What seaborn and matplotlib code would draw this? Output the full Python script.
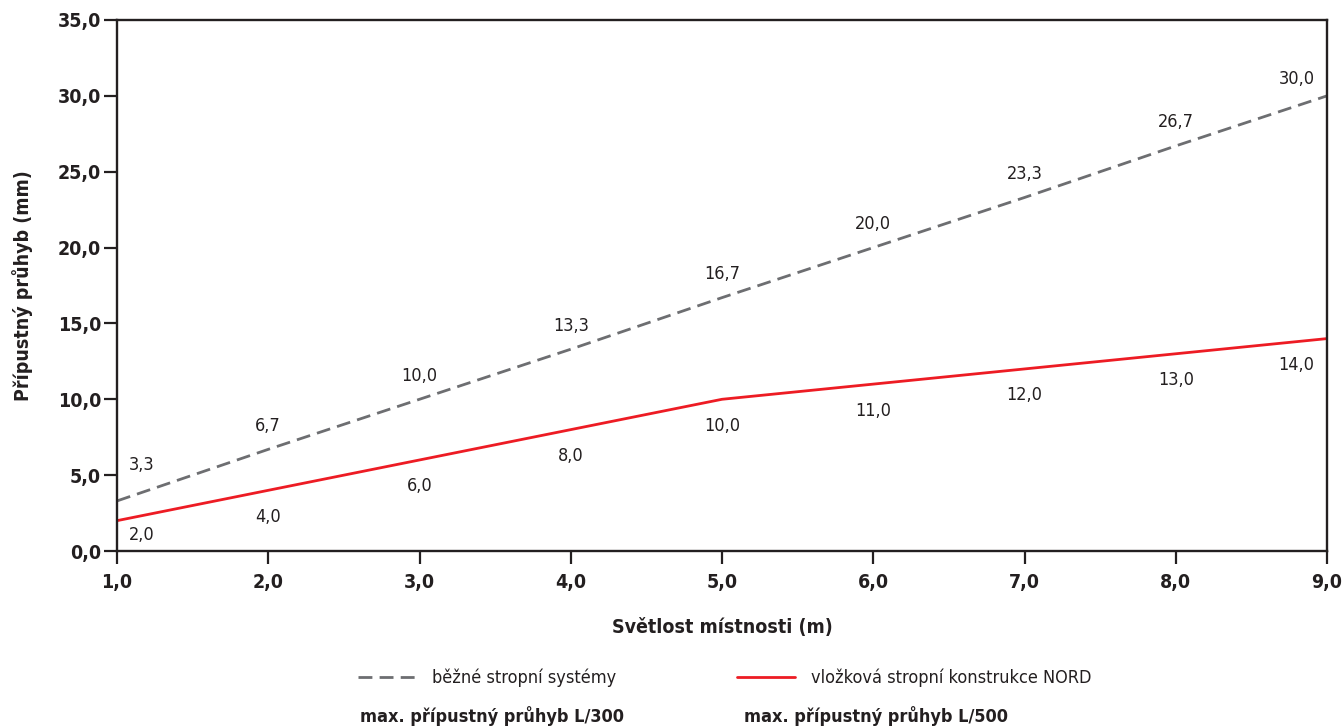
import matplotlib
matplotlib.use("Agg")
import matplotlib.pyplot as plt
import matplotlib.ticker as ticker
from matplotlib.lines import Line2D
import pandas as pd
import seaborn as sns

spans = [1, 2, 3, 4, 5, 6, 7, 8, 9]
common = [3.3, 6.7, 10.0, 13.3, 16.7, 20.0, 23.3, 26.7, 30.0]
nord = [2.0, 4.0, 6.0, 8.0, 10.0, 11.0, 12.0, 13.0, 14.0]
name_common = "běžné stropní systémy"
name_nord = "vložková stropní konstrukce NORD"
note_common = "max. přípustný průhyb L/300"
note_nord = "max. přípustný průhyb L/500"
xlabel = "Světlost místnosti (m)"
ylabel = "Přípustný průhyb (mm)"

GRAY = "#6d6e71"
RED = "#ed1c24"
INK = "#231f20"
DASH = (0, (5, 2.6))

sns.set_theme(style="white")
plt.rcParams["font.family"] = ["Liberation Sans Narrow", "DejaVu Sans"]
plt.rcParams["font.stretch"] = "condensed"

df = pd.DataFrame({"span": spans, "common": common, "nord": nord})

fig = plt.figure(figsize=(13.43, 7.28), dpi=100)
ax = fig.add_axes([117 / 1343, 1 - 551 / 728, (1327 - 117) / 1343, (551 - 20) / 728])

sns.lineplot(data=df, x="span", y="common", ax=ax, color=GRAY, lw=2.0,
             dashes=False, linestyle=DASH)
sns.lineplot(data=df, x="span", y="nord", ax=ax, color=RED, lw=2.0)

def fmt(v):
    return f"{v:.1f}".replace(".", ",")

last = len(spans) - 1
for i, (x, y) in enumerate(zip(spans, common)):
    dx = 18 if i == 0 else (-22 if i == last else 0)
    dy = 26 if i == 0 else (12 if i == last else 17)
    ax.annotate(fmt(y), (x, y), xytext=(dx, dy), textcoords="offset points",
                ha="center", va="center", fontsize=13, color=INK)
for i, (x, y) in enumerate(zip(spans, nord)):
    dx = 18 if i == 0 else (-22 if i == last else 0)
    dy = -10 if i == 0 else -19
    ax.annotate(fmt(y), (x, y), xytext=(dx, dy), textcoords="offset points",
                ha="center", va="center", fontsize=13, color=INK)

ax.set_xlim(1, 9)
ax.set_ylim(0, 35)
ax.xaxis.set_major_locator(ticker.MultipleLocator(1))
ax.yaxis.set_major_locator(ticker.MultipleLocator(5))
comma = ticker.FuncFormatter(lambda v, p: fmt(v))
ax.xaxis.set_major_formatter(comma)
ax.yaxis.set_major_formatter(comma)
ax.tick_params(axis="both", direction="out", length=9.5, width=1.6, color=INK,
               labelsize=14, labelcolor=INK, pad=2, bottom=True, left=True)
ax.tick_params(axis="x", pad=6)
for lab in ax.get_xticklabels() + ax.get_yticklabels():
    lab.set_fontweight("bold")
for s in ax.spines.values():
    s.set_color(INK)
    s.set_linewidth(1.7)

ax.set_xlabel(xlabel, fontsize=14, fontweight="bold", color=INK, labelpad=19)
ax.set_ylabel(ylabel, fontsize=14, fontweight="bold", color=INK, labelpad=18)

h1 = Line2D([], [], color=GRAY, lw=2.0, linestyle=DASH)
h2 = Line2D([], [], color=RED, lw=2.0)
for h, name, x0 in [(h1, name_common, 358), (h2, name_nord, 737)]:
    fig.legend(handles=[h], labels=[name], loc="center left",
               bbox_to_anchor=(x0 / 1343, 1 - 678 / 728), frameon=False,
               borderpad=0, borderaxespad=0, handlelength=3.2, handletextpad=0.9,
               fontsize=13, labelcolor=INK)
fig.text(360 / 1343, 1 - 716 / 728, note_common, fontsize=13, fontweight="bold",
         color=INK, va="center", ha="left")
fig.text(744 / 1343, 1 - 716 / 728, note_nord, fontsize=13, fontweight="bold",
         color=INK, va="center", ha="left")

fig.savefig("out.png", dpi=100)
